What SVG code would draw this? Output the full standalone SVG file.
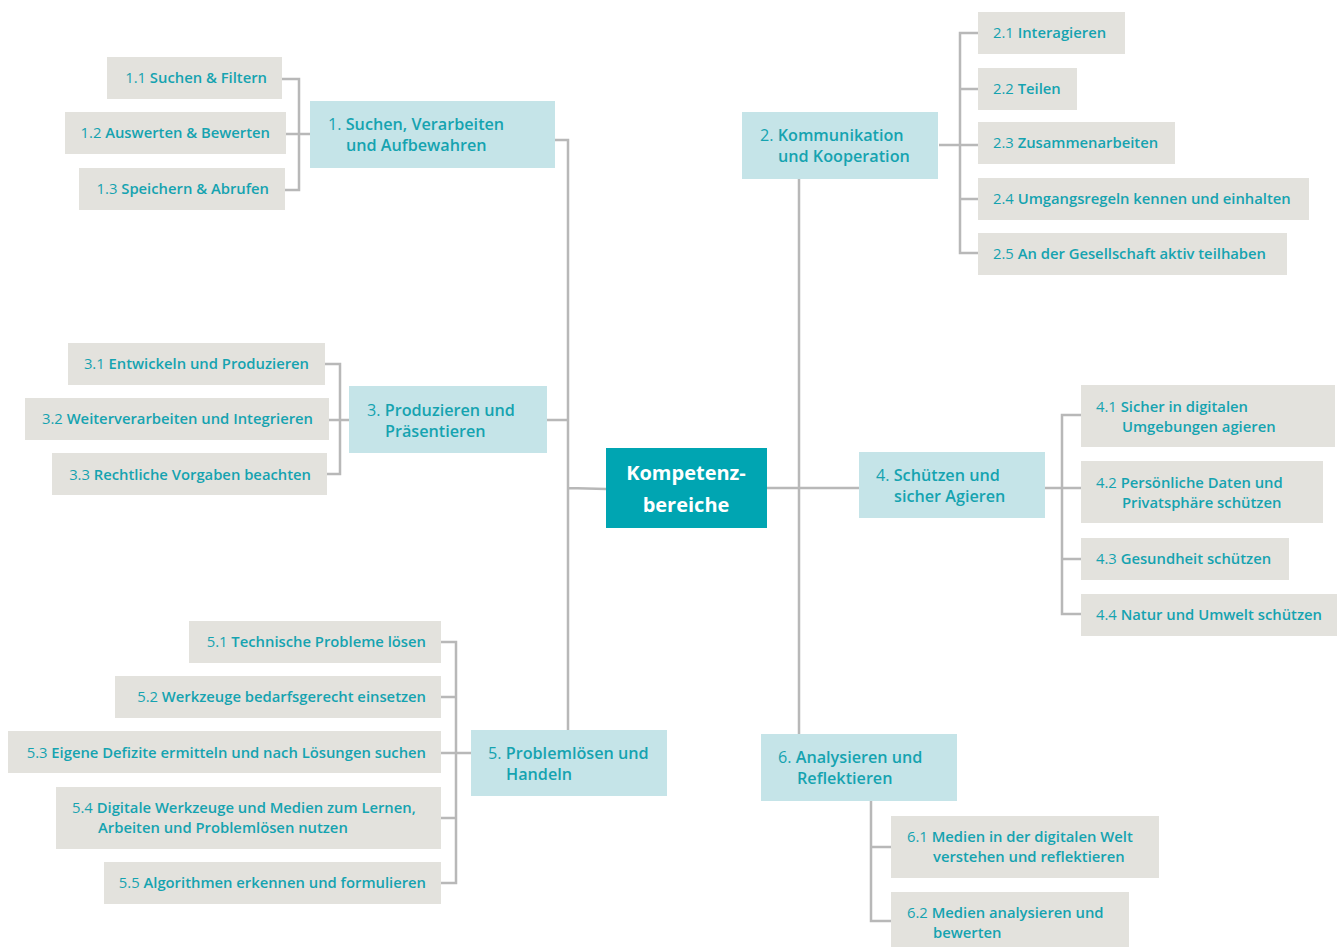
<svg xmlns="http://www.w3.org/2000/svg" width="1339" height="947" viewBox="0 0 1339 947">
<style>
text{font-family:"Open Sans","Noto Sans","Liberation Sans",sans-serif;fill:#15a3b0;font-weight:600}
.s{font-size:14.8px}
.c{font-size:16.2px}
.n{font-weight:400}
.e{text-anchor:end}
.sub{fill:#e3e2dd}
.cat{fill:#c5e4e8}
.main{fill:#00a5b2}
.mt{fill:#fff;font-size:20px;font-weight:700;text-anchor:middle}
#connectors path{fill:none;stroke:#b8b8b8;stroke-width:2.5}
</style>
<rect width="1339" height="947" fill="#fff"/>
<g id="connectors">
<path d="M555 140H568V730M568 488L606 489"/>
<path d="M767 488H859M799 179V734"/>
<path d="M282 79H299V190H285M286 134H310"/>
<path d="M939 145H978M978 33H960V253H978M960 89H978M960 199H978"/>
<path d="M325 364H340V474H327M329 420H349M547 420H568"/>
<path d="M1045 488H1081M1081 415H1062V614H1081M1062 559H1081"/>
<path d="M441 642H456V883H441M441 697H456M441 753H471M441 818H456"/>
<path d="M871 801V921H891M871 847H891"/>
</g>
<g id="main"><rect class="main" x="606" y="448" width="161" height="80"/><text class="mt" x="686" y="480">Kompetenz-</text><text class="mt" x="686" y="512">bereiche</text></g>
<g id="cat1"><rect class="cat" x="310" y="101" width="245" height="67"/><text class="c" x="328" y="130"><tspan class="n">1. </tspan>Suchen, Verarbeiten</text><text class="c" x="346" y="151">und Aufbewahren</text></g>
<g id="cat2"><rect class="cat" x="742" y="112" width="196" height="67"/><text class="c" x="760" y="141"><tspan class="n">2. </tspan>Kommunikation</text><text class="c" x="778" y="162">und Kooperation</text></g>
<g id="cat3"><rect class="cat" x="349" y="386" width="198" height="67"/><text class="c" x="367" y="416"><tspan class="n">3. </tspan>Produzieren und</text><text class="c" x="385" y="437">Präsentieren</text></g>
<g id="cat4"><rect class="cat" x="859" y="452" width="186" height="66"/><text class="c" x="876" y="481"><tspan class="n">4. </tspan>Schützen und</text><text class="c" x="894" y="502">sicher Agieren</text></g>
<g id="cat5"><rect class="cat" x="471" y="730" width="196" height="66"/><text class="c" x="488" y="759"><tspan class="n">5. </tspan>Problemlösen und</text><text class="c" x="506" y="780">Handeln</text></g>
<g id="cat6"><rect class="cat" x="761" y="734" width="196" height="67"/><text class="c" x="778" y="763"><tspan class="n">6. </tspan>Analysieren und</text><text class="c" x="797" y="784">Reflektieren</text></g>
<g id="n11"><rect class="sub" x="107" y="57" width="175" height="42"/><text class="s e" x="267" y="83"><tspan class="n">1.1 </tspan>Suchen &amp; Filtern</text></g>
<g id="n12"><rect class="sub" x="65" y="112" width="221" height="42"/><text class="s e" x="270" y="138"><tspan class="n">1.2 </tspan>Auswerten &amp; Bewerten</text></g>
<g id="n13"><rect class="sub" x="79" y="168" width="206" height="42"/><text class="s e" x="269" y="194"><tspan class="n">1.3 </tspan>Speichern &amp; Abrufen</text></g>
<g id="n21"><rect class="sub" x="978" y="12" width="147" height="42"/><text class="s" x="993" y="38"><tspan class="n">2.1 </tspan>Interagieren</text></g>
<g id="n22"><rect class="sub" x="978" y="68" width="99" height="42"/><text class="s" x="993" y="94"><tspan class="n">2.2 </tspan>Teilen</text></g>
<g id="n23"><rect class="sub" x="978" y="122" width="197" height="42"/><text class="s" x="993" y="148"><tspan class="n">2.3 </tspan>Zusammenarbeiten</text></g>
<g id="n24"><rect class="sub" x="978" y="178" width="331" height="42"/><text class="s" x="993" y="204"><tspan class="n">2.4 </tspan>Umgangsregeln kennen und einhalten</text></g>
<g id="n25"><rect class="sub" x="978" y="233" width="309" height="42"/><text class="s" x="993" y="259"><tspan class="n">2.5 </tspan>An der Gesellschaft aktiv teilhaben</text></g>
<g id="n31"><rect class="sub" x="68" y="343" width="257" height="42"/><text class="s e" x="309" y="369"><tspan class="n">3.1 </tspan>Entwickeln und Produzieren</text></g>
<g id="n32"><rect class="sub" x="25" y="398" width="304" height="42"/><text class="s e" x="313" y="424"><tspan class="n">3.2 </tspan>Weiterverarbeiten und Integrieren</text></g>
<g id="n33"><rect class="sub" x="52" y="453" width="275" height="42"/><text class="s e" x="311" y="480"><tspan class="n">3.3 </tspan>Rechtliche Vorgaben beachten</text></g>
<g id="n41"><rect class="sub" x="1081" y="385" width="254" height="62"/><text class="s" x="1096" y="412"><tspan class="n">4.1 </tspan>Sicher in digitalen</text><text class="s" x="1122" y="432">Umgebungen agieren</text></g>
<g id="n42"><rect class="sub" x="1081" y="461" width="242" height="62"/><text class="s" x="1096" y="488"><tspan class="n">4.2 </tspan>Persönliche Daten und</text><text class="s" x="1122" y="508">Privatsphäre schützen</text></g>
<g id="n43"><rect class="sub" x="1081" y="538" width="208" height="42"/><text class="s" x="1096" y="564"><tspan class="n">4.3 </tspan>Gesundheit schützen</text></g>
<g id="n44"><rect class="sub" x="1081" y="594" width="256" height="42"/><text class="s" x="1096" y="620"><tspan class="n">4.4 </tspan>Natur und Umwelt schützen</text></g>
<g id="n51"><rect class="sub" x="189" y="621" width="252" height="42"/><text class="s e" x="426" y="647"><tspan class="n">5.1 </tspan>Technische Probleme lösen</text></g>
<g id="n52"><rect class="sub" x="115" y="676" width="326" height="42"/><text class="s e" x="426" y="702"><tspan class="n">5.2 </tspan>Werkzeuge bedarfsgerecht einsetzen</text></g>
<g id="n53"><rect class="sub" x="8" y="731" width="433" height="42"/><text class="s e" x="426" y="758"><tspan class="n">5.3 </tspan>Eigene Defizite ermitteln und nach Lösungen suchen</text></g>
<g id="n54"><rect class="sub" x="56" y="787" width="385" height="62"/><text class="s" x="72" y="813"><tspan class="n">5.4 </tspan>Digitale Werkzeuge und Medien zum Lernen,</text><text class="s" x="98" y="833">Arbeiten und Problemlösen nutzen</text></g>
<g id="n55"><rect class="sub" x="104" y="862" width="337" height="42"/><text class="s e" x="426" y="888"><tspan class="n">5.5 </tspan>Algorithmen erkennen und formulieren</text></g>
<g id="n61"><rect class="sub" x="891" y="816" width="268" height="62"/><text class="s" x="907" y="842"><tspan class="n">6.1 </tspan>Medien in der digitalen Welt</text><text class="s" x="933" y="862">verstehen und reflektieren</text></g>
<g id="n62"><rect class="sub" x="891" y="892" width="238" height="62"/><text class="s" x="907" y="918"><tspan class="n">6.2 </tspan>Medien analysieren und</text><text class="s" x="933" y="938">bewerten</text></g>
</svg>
